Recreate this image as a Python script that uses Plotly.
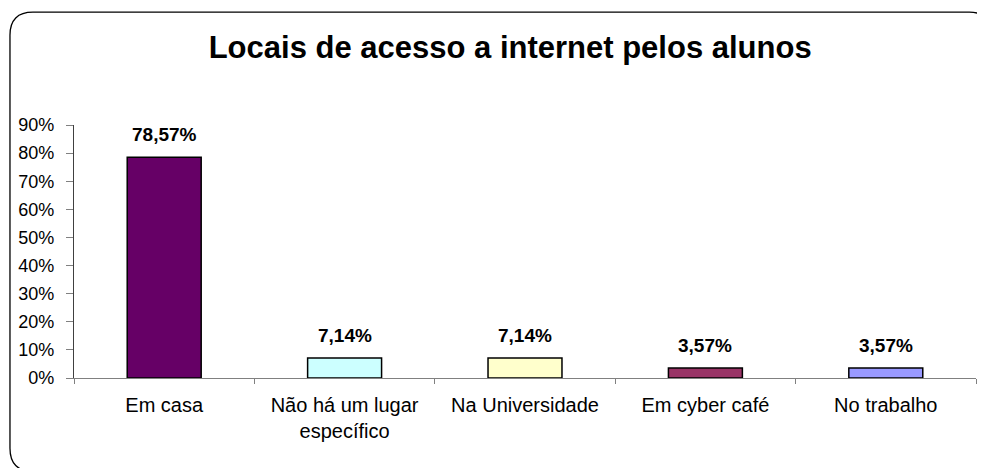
import plotly.graph_objects as go

categories = ["Em casa", "Não há um lugar<br>específico", "Na Universidade", "Em cyber café", "No trabalho"]
values = [0.7857, 0.0714, 0.0714, 0.0357, 0.0357]
labels = ["78,57%", "7,14%", "7,14%", "3,57%", "3,57%"]
colors = ["#660066", "#CCFFFF", "#FFFFCC", "#993366", "#9999FF"]
tick_vals = [0, 0.1, 0.2, 0.3, 0.4, 0.5, 0.6, 0.7, 0.8, 0.9]
tick_text = ["0%", "10%", "20%", "30%", "40%", "50%", "60%", "70%", "80%", "90%"]

FONT = "Liberation Sans, Arial"
W, H = 977, 460           # page body has an 8px margin
L, R, T, B = 66, 9.4, 117, 89.5
pw, ph = W - L - R, H - T - B

def px(x):
    return (x - L) / pw

def py(y):
    return (H - B - y) / ph

fig = go.Figure()
fig.add_trace(go.Bar(
    x=categories, y=values, width=0.41,
    marker=dict(color=colors, line=dict(color="black", width=1.5)),
    showlegend=False, hoverinfo="skip",
))

for c, v, t in zip(categories, values, labels):
    fig.add_annotation(x=c, y=v, text="<b>" + t + "</b>", showarrow=False,
                       yanchor="bottom", yshift=10,
                       font=dict(family=FONT, size=19, color="black"))

# rounded chart frame (extends past the right/bottom edge like the reference)
x0, y0, x1, y1, r = 2, 4, 984, 464, 23
path = (f"M {px(x0+r)},{py(y0)} L {px(x1-r)},{py(y0)} Q {px(x1)},{py(y0)} {px(x1)},{py(y0+r)} "
        f"L {px(x1)},{py(y1-r)} Q {px(x1)},{py(y1)} {px(x1-r)},{py(y1)} "
        f"L {px(x0+r)},{py(y1)} Q {px(x0)},{py(y1)} {px(x0)},{py(y1-r)} "
        f"L {px(x0)},{py(y0+r)} Q {px(x0)},{py(y0)} {px(x0+r)},{py(y0)} Z")
fig.add_shape(type="path", path=path, xref="paper", yref="paper",
              line=dict(color="black", width=1.3), layer="below")

fig.update_layout(
    width=W, height=H,
    margin=dict(l=L, r=R, t=T, b=B),
    paper_bgcolor="white", plot_bgcolor="white",
    title=dict(text="<b>Locais de acesso a internet pelos alunos</b>",
               x=0.514, xanchor="center", y=1 - 39 / H, yanchor="middle",
               font=dict(family=FONT, size=31, color="black")),
    font=dict(family=FONT, size=18, color="black"),
)
fig.update_xaxes(showline=True, linecolor="#808080", linewidth=1.2,
                 ticks="outside", tickson="boundaries", ticklen=5, tickcolor="#808080",
                 ticklabelstandoff=9,
                 showgrid=False, tickfont=dict(family=FONT, size=20, color="black"))
fig.update_yaxes(range=[0, 0.9], tickvals=tick_vals, ticktext=tick_text,
                 showline=True, linecolor="#404040", linewidth=1.3,
                 ticks="outside", ticklen=7, tickcolor="#808080",
                 ticklabelstandoff=8,
                 showgrid=False, zeroline=False,
                 tickfont=dict(family=FONT, size=18, color="black"))

fig.write_html("out.html")
